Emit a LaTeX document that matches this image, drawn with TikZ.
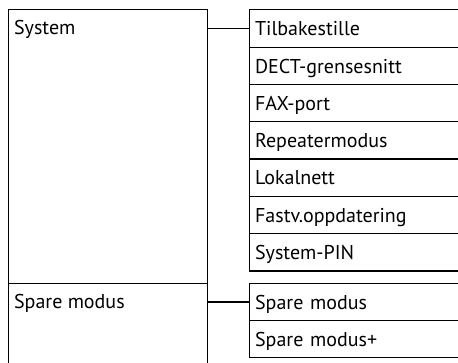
\documentclass[tikz,border=0pt]{standalone}
\usepackage{fontspec}
\setmainfont{PT Sans}
\usetikzlibrary{calc}
\begin{document}
\begin{tikzpicture}[x=1pt,y=-1pt,
  line width=1.2pt,
  box/.style={draw, rectangle, inner sep=0pt, anchor=north west},
  row/.style={draw, rectangle, anchor=north west, minimum width=230pt, minimum height=37.3pt,
    text width=219pt, align=left, inner xsep=5pt, inner ysep=0pt,
    text height=15pt, text depth=0.5pt, font=\fontsize{20}{24}\selectfont},
  lbl/.style={anchor=base west, inner sep=0pt, font=\fontsize{20}{24}\selectfont}]
\useasboundingbox (0,0) rectangle (458,363);
% left boxes
\node[box, minimum width=199pt, minimum height=273.4pt] (sys) at (8,9.3) {};
\node[box, minimum width=199pt, minimum height=100pt] (spm) at (8,282.7) {};
\node[lbl] (systxt) at (13.5,35) {System};
\node[lbl] (spmtxt) at (13.5,308.3) {Spare modus};
% right rows
\node[row] (r1) at (249,9.3) {Tilbakestille};
\node[row] (r2) at (249,46.6) {DECT-grensesnitt};
\node[row] (r3) at (249,83.9) {FAX-port};
\node[row] (r4) at (249,121.2) {Repeatermodus};
\node[row] (r5) at (249,158.5) {Lokalnett};
\node[row] (r6) at (249,195.8) {Fastv.oppdatering};
\node[row] (r7) at (249,233.1) {System-PIN};
\node[row] (s1) at (249,282.7) {Spare modus};
\node[row] (s2) at (249,320.0) {Spare modus+};
% connectors
\draw (sys.east |- r1.west) -- (r1.west);
\draw (spm.east |- s1.west) -- (s1.west);
\end{tikzpicture}
\end{document}
